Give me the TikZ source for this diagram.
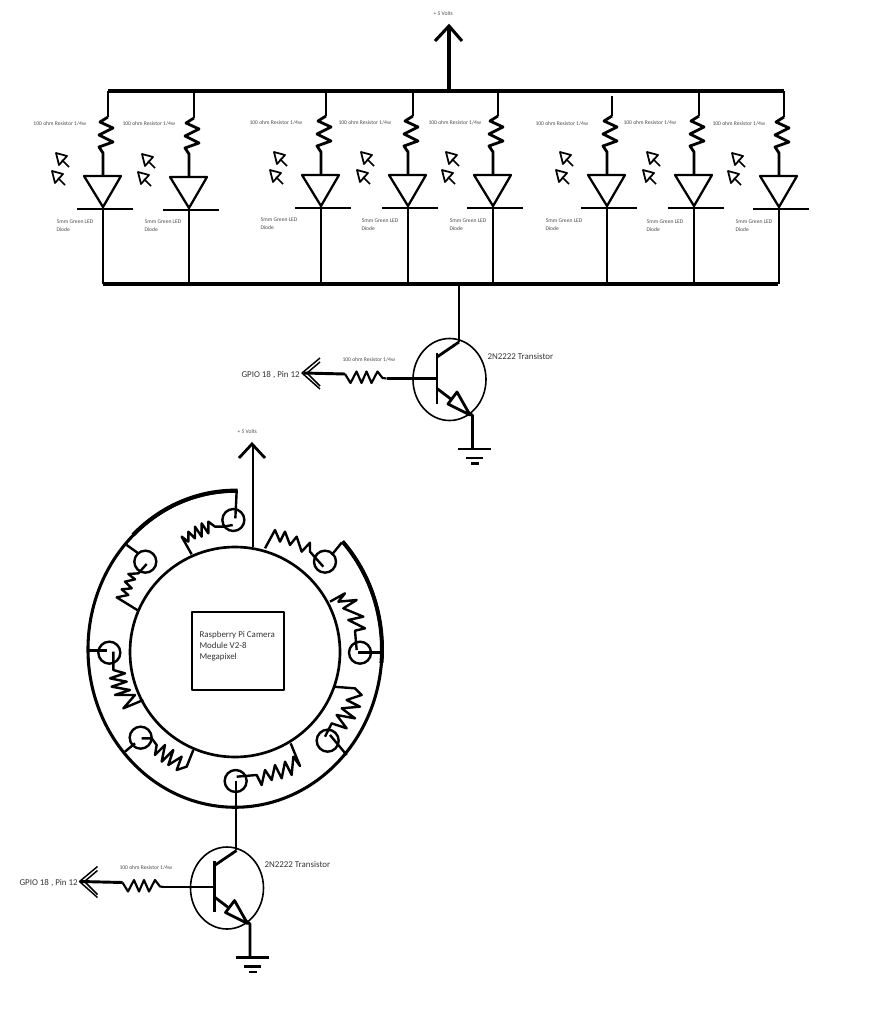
\documentclass[tikz,border=0pt]{standalone}
\usepackage{fontspec}
\setmainfont{Carlito}
\tikzset{every picture/.style={line width=0.75pt}}
\tikzset{
  busline/.style={line width=2.3pt},
  wire/.style={line width=2.1pt,line join=round},
  thinwire/.style={line width=1.8pt,line join=round},
  smalltext/.style={anchor=west,inner sep=0pt,font=\fontsize{4.2}{4.2}\selectfont,text=black!70},
  bigtext/.style={anchor=west,inner sep=0pt,font=\fontsize{6.7}{6.7}\selectfont,text=black!80},
  ledray/.pic={
    \begin{scope}[yscale=-1]
    \draw [thinwire,line width=1.3pt] (0,0) -- (11,3) -- (3,12) -- cycle ;
    \draw [thinwire,line width=1.3pt] (6,7) -- (13,14) ;
    \end{scope}
  },
  ledbranch/.pic={
    \begin{scope}[yscale=-1]
    %Resistor
    \draw [wire] (0,0) -- (-8,5) -- (5,11) -- (-9,18) -- (5,25) -- (-9,30) -- (-5,36) -- (-5,59) ;
    %Shape: Triangle
    \draw [wire,line width=1.7pt] (-24,59) -- (13,59) -- (-5,90) -- cycle ;
    %Straight Lines
    \draw [thinwire,line width=1.6pt] (-31,92) -- (25,92) ;
    \draw [wire] (-5,90) -- (-5,167) ;
    \pic at (-52,36) {ledray};
    \pic at (-56,54) {ledray};
    \end{scope}
  },
  drivercct/.pic={
    \begin{scope}[yscale=-1]
    %Shape: Ellipse
    \draw [line width=1.2pt] (0,0) ellipse [x radius=36.5, y radius=41] ;
    %Collector and base
    \draw [wire] (9.5,-37.5) -- (-12.5,-22.5) ;
    \draw [wire,line width=2.2pt] (-12.5,-27) -- (-12.5,24) ;
    \draw [thinwire] (-12.5,-1) -- (-63,-1) ;
    %Emitter
    \draw [wire] (-12.5,9) -- (23,36) -- (23,69.5) ;
    \draw [wire,fill=white] (7.5,12.5) -- (-1.5,24.5) -- (20.5,35.5) -- cycle ;
    %Ground
    \draw [wire] (8.5,69.5) -- (41.5,69.5) ;
    \draw [wire] (16.5,78.5) -- (33.5,78.5) ;
    \draw [wire] (21.5,84) -- (29.5,84) ;
    %Resistor
    \draw [thinwire,line width=1.6pt] (-63,-1) -- (-67,-1.5) -- (-72,-8) -- (-78,3.5) -- (-83,-8) -- (-88,3.5) -- (-93,-8) -- (-99,3.5) -- (-104.5,-5.5) ;
    %Arrow
    \draw [wire,line width=2.2pt] (-104.5,-5.5) -- (-146,-6.5) ;
    \draw [thinwire,line width=1.1pt] (-129.5,-21.5) -- (-147.5,-6.5) -- (-129.5,9.5) ;
    \draw [thinwire,line width=1.1pt] (-129.5,-17.5) -- (-142.5,-6.5) -- (-129.5,6.5) ;
    \end{scope}
  },
}

\begin{document}
\begin{tikzpicture}[x=0.75pt,y=0.75pt,yscale=-1,xscale=1]
\useasboundingbox (0,0) rectangle (871,1024);

%Straight Lines: supply and return
\draw [busline] (108,91) -- (784,91) ;
\draw [busline] (103,284) -- (778,284) ;
\draw [busline,line width=2.5pt] (449,91) -- (449,26) ;
\draw [busline,line join=miter] (435,41) -- (449,26) -- (462,41) ;

%LED branches
\draw [wire] (108,91) -- (108,117) ;
\pic at (108,117) {ledbranch};
\draw [wire] (194,91) -- (194,118) ;
\pic at (194,118) {ledbranch};
\draw [wire] (326,91) -- (326,116) ;
\pic at (326,116) {ledbranch};
\draw [wire] (413,91) -- (413,116) ;
\pic at (413,116) {ledbranch};
\draw [wire] (498,91) -- (498,116) ;
\pic at (498,116) {ledbranch};
\draw [wire] (612,96) -- (612,116) ;
\pic at (612,116) {ledbranch};
\draw [wire] (699,91) -- (699,116) ;
\pic at (699,116) {ledbranch};
\draw [wire] (784,91) -- (784,117) ;
\pic at (784,117) {ledbranch};

% Text Node
\node [smalltext] (vone) at (433,14) {+ 5 Volts};
% Text Node
\node [smalltext] (resa) at (33,124) {100 ohm Resistor 1/4w};
\node [smalltext] (resb) at (122,124) {100 ohm Resistor 1/4w};
\node [smalltext] (resc) at (249,123) {100 ohm Resistor 1/4w};
\node [smalltext] (resd) at (338,123) {100 ohm Resistor 1/4w};
\node [smalltext] (rese) at (428,123) {100 ohm Resistor 1/4w};
\node [smalltext] (resf) at (535,124) {100 ohm Resistor 1/4w};
\node [smalltext] (resg) at (623,123) {100 ohm Resistor 1/4w};
\node [smalltext] (resh) at (712,124) {100 ohm Resistor 1/4w};
% Text Node
\node [smalltext,align=left,anchor=north west] (leda) at (56,219) {5mm Green LED\\[1.7pt]Diode};
\node [smalltext,align=left,anchor=north west] (ledb) at (144,219) {5mm Green LED\\[1.7pt]Diode};
\node [smalltext,align=left,anchor=north west] (ledc) at (260,217) {5mm Green LED\\[1.7pt]Diode};
\node [smalltext,align=left,anchor=north west] (ledd) at (361,218) {5mm Green LED\\[1.7pt]Diode};
\node [smalltext,align=left,anchor=north west] (lede) at (449,218) {5mm Green LED\\[1.7pt]Diode};
\node [smalltext,align=left,anchor=north west] (ledf) at (545,218) {5mm Green LED\\[1.7pt]Diode};
\node [smalltext,align=left,anchor=north west] (ledg) at (646,219) {5mm Green LED\\[1.7pt]Diode};
\node [smalltext,align=left,anchor=north west] (ledh) at (735,219) {5mm Green LED\\[1.7pt]Diode};

%Upper transistor
\draw [wire] (459,284) -- (459,342) ;
\pic at (449.5,379.5) {drivercct};
\node [smalltext] (rest) at (342,360) {100 ohm Resistor 1/4w};
\node [bigtext] (gpioa) at (241,375) {GPIO 18 , Pin 12};
\node [bigtext] (tra) at (487,356) {2N2222 Transistor};

%Ring: outer and inner arcs
\draw [busline] (342.5,541.5) arc [start angle=-43, end angle=271, x radius=147, y radius=158] ;
\draw [busline,line width=3pt] (342.5,541.5) arc [start angle=-43, end angle=5, x radius=147, y radius=158] ;
\draw [busline,line width=3pt] (133,535) arc [start angle=226, end angle=271, x radius=147, y radius=158] ;
\draw [busline,line width=2pt] (235,652) circle [radius=105] ;

%Shape: Rectangle
\draw [wire] (192,612) rectangle (284,690) ;
\node [bigtext,align=left,anchor=north west] (cam) at (199,630.5) {Raspberry Pi Camera\\[1.6pt]Module V2-8\\[1.6pt]Megapixel};

%Supply arrow of the ring
\draw [wire] (253,547) -- (253,444) ;
\draw [wire,line join=miter] (239,458) -- (252,444) -- (265,458) ;
\node [smalltext] (vtwo) at (237,432) {+ 5 Volts};

%Ring LEDs, upper half
\begin{scope}[shift={(80,420)},x=0.25pt,y=0.25pt]
\draw [thinwire] (460,300) circle [radius=33] ;
\draw [thinwire] (470,213) -- (466,295) ;
\draw [thinwire] (458,315) -- (430,320) -- (405,320) -- (385,305) -- (385,340) -- (365,310) -- (365,350) -- (345,320) -- (345,355) -- (325,335) -- (325,365) -- (305,350) -- (335,403) ;
\draw [thinwire] (196,425) circle [radius=33] ;
\draw [thinwire] (140,375) -- (175,400) ;
\draw [thinwire] (200,432) -- (175,460) -- (145,462) -- (165,478) -- (135,485) -- (155,505) -- (125,508) -- (145,525) -- (110,532) -- (175,572) ;
\draw [thinwire] (735,425) circle [radius=33] ;
\draw [thinwire] (785,368) -- (755,405) ;
\draw [thinwire] (730,440) -- (690,395) -- (690,368) -- (665,395) -- (650,350) -- (630,375) -- (615,335) -- (600,365) -- (585,330) -- (555,385) ;
\draw [thinwire] (840,698) circle [radius=33] ;
\draw [thinwire] (905,698) -- (835,698) ;
\draw [thinwire] (750,545) -- (795,520) -- (775,545) -- (830,540) -- (790,565) -- (850,590) -- (805,600) -- (855,625) -- (825,632) -- (830,690) ;
\end{scope}

%Ring LEDs, lower half
\begin{scope}[shift={(80,640)},x=0.25pt,y=0.25pt]
\draw [thinwire] (88,38) circle [radius=33] ;
\draw [thinwire] (25,32) -- (80,32) ;
\draw [thinwire] (100,35) -- (100,90) -- (135,100) -- (90,115) -- (140,125) -- (95,140) -- (150,150) -- (105,165) -- (165,165) -- (130,205) -- (190,180) ;
\draw [thinwire] (182,293) circle [radius=33] ;
\draw [thinwire] (135,335) -- (165,310) ;
\draw [thinwire] (185,295) -- (215,295) -- (230,315) -- (225,345) -- (255,315) -- (245,365) -- (280,330) -- (265,375) -- (305,350) -- (290,390) -- (320,380) -- (340,330) ;
\draw [thinwire] (467,423) circle [radius=33] ;
\draw [thinwire] (470,410) -- (530,405) -- (545,435) -- (555,390) -- (575,420) -- (585,375) -- (605,415) -- (615,365) -- (635,405) -- (640,350) -- (660,378) -- (632,310) ;
\draw [thinwire] (743,302) circle [radius=33] ;
\draw [thinwire] (800,345) -- (750,285) ;
\draw [thinwire] (735,290) -- (755,250) -- (800,265) -- (770,225) -- (825,235) -- (785,205) -- (840,200) -- (800,180) -- (845,165) -- (825,145) -- (760,140) ;
\end{scope}

%Lower transistor
\draw [wire] (236,781) -- (236,850) ;
\pic at (227,888) {drivercct};
\node [smalltext] (resu) at (119,868) {100 ohm Resistor 1/4w};
\node [bigtext] (gpiob) at (19,883) {GPIO 18 , Pin 12};
\node [bigtext] (trb) at (264,864) {2N2222 Transistor};

\end{tikzpicture}
\end{document}
